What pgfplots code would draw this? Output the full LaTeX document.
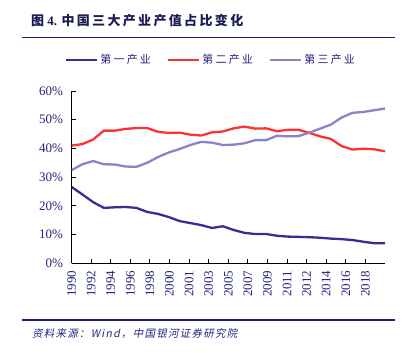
\documentclass[border=0pt]{standalone}
\usepackage{pgfplots}
\pgfplotsset{compat=1.18}
\usepackage{fontspec}
\setmainfont{Liberation Serif}
\newfontfamily\cjk{Noto Sans CJK SC}
\newfontfamily\cjktitle[LetterSpace=18]{Noto Sans CJK SC}
\newfontfamily\cjkleg[LetterSpace=20]{Noto Sans CJK SC}
\newfontfamily\cjksrc[FakeSlant=0.2,LetterSpace=12]{Noto Sans CJK SC}
\definecolor{navy}{RGB}{35,35,130}
\definecolor{titlenavy}{RGB}{28,28,85}
\definecolor{rulenavy}{RGB}{30,30,120}
\definecolor{cone}{RGB}{58,45,145}
\definecolor{ctwo}{RGB}{255,50,50}
\definecolor{cthree}{RGB}{140,130,200}
\pgfplotstableread{
i p s t
0 26.6 41.0 32.4
1 24.0 41.5 34.5
2 21.3 43.1 35.6
3 19.3 46.2 34.5
4 19.5 46.2 34.4
5 19.6 46.8 33.7
6 19.3 47.1 33.6
7 17.9 47.1 35.0
8 17.2 45.8 37.0
9 16.1 45.4 38.6
10 14.7 45.5 39.8
11 14.0 44.8 41.2
12 13.3 44.5 42.3
13 12.3 45.6 42.0
14 12.9 45.9 41.2
15 11.6 47.0 41.3
16 10.6 47.6 41.8
17 10.2 46.9 42.9
18 10.2 47.0 42.9
19 9.6 46.0 44.4
20 9.3 46.5 44.2
21 9.2 46.5 44.3
22 9.1 45.4 45.5
23 8.9 44.2 46.9
24 8.6 43.3 48.3
25 8.4 40.8 50.8
26 8.1 39.6 52.4
27 7.5 39.9 52.7
28 7.0 39.7 53.3
29 7.0 39.0 53.9
}\datatable
\begin{document}
\begin{tikzpicture}
\path[use as bounding box] (0,0) rectangle (412pt,353pt);
\node[anchor=west, text=titlenavy, inner sep=0pt, font=\fontsize{13}{15}\selectfont] at (31pt,332pt) {{\cjk\bfseries 图} \textbf{4.} {\cjktitle\bfseries 中国三大产业产值占比变化}};
\draw[rulenavy, line width=1.3pt] (22pt,315.3pt) -- (395pt,315.3pt);
\draw[rulenavy, line width=1.1pt] (22pt,33pt) -- (395pt,33pt);
\node[anchor=west, text=navy, inner sep=0pt, font=\fontsize{10.5}{12}\selectfont] at (32pt,19.7pt) {\cjksrc 资料来源：Wind，中国银河证券研究院};
\begin{axis}[
  at={(71.5pt,89.7pt)}, anchor=south west,
  scale only axis, width=313.5pt, height=172.3pt,
  xmin=0, xmax=29, ymin=0, ymax=60,
  axis lines=left, axis line style={black, line width=1.2pt, -},
  tick style={black, line width=1pt}, tick align=inside,
  major tick length=4pt,
  xtick={0,1.8125,3.625,5.4375,7.25,9.0625,10.875,12.6875,14.5,16.3125,18.125,19.9375,21.75,23.5625,25.375,27.1875},
  xticklabels={1990,1992,1994,1996,1998,2000,2001,2003,2005,2007,2009,2011,2012,2014,2016,2018},
  ytick={0,10,20,30,40,50,60},
  yticklabel={\pgfmathprintnumber{\tick}\%},
  /pgf/number format/assume math mode=true,
  ticklabel style={text=navy, font=\fontsize{13}{15}\selectfont},
  xticklabel style={rotate=90, anchor=east, yshift=0pt, xshift=-4pt},
  yticklabel style={xshift=-5pt},
  legend columns=3,
  legend style={at={(0.445,1.18)}, anchor=center, draw=none, fill=none,
    font=\fontsize{11}{13}\selectfont\cjkleg, text=navy,
    /tikz/every even column/.append style={column sep=14pt}},
  legend image code/.code={\draw[#1, line width=2.4pt] (0pt,0pt) -- (31pt,0pt);},
  every axis plot/.append style={line width=2.3pt, line join=round},
]
\addplot[cone, no markers] table[x=i, y=p] {\datatable};
\addlegendentry{第一产业}
\addplot[ctwo, no markers] table[x=i, y=s] {\datatable};
\addlegendentry{第二产业}
\addplot[cthree, no markers] table[x=i, y=t] {\datatable};
\addlegendentry{第三产业}
\end{axis}
\end{tikzpicture}
\end{document}
